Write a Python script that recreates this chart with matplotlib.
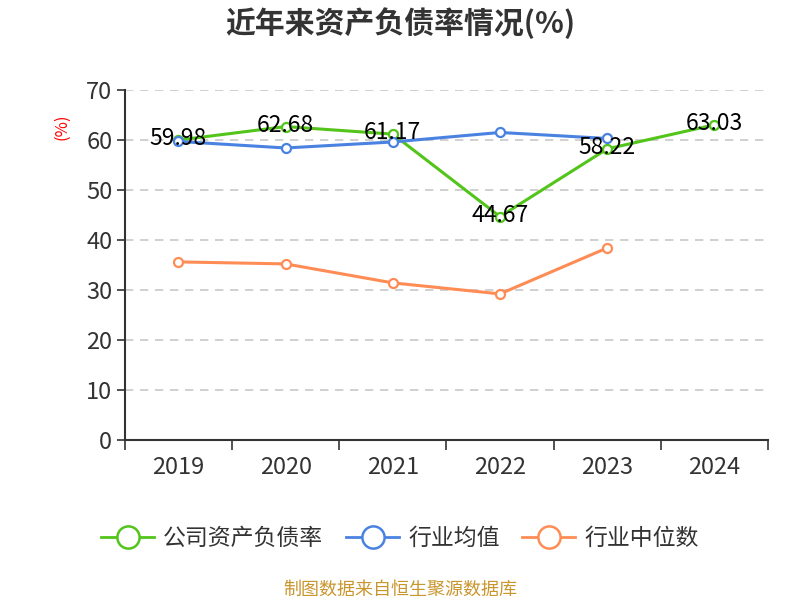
import numpy as np
import matplotlib
matplotlib.use("Agg")
import matplotlib.pyplot as plt
from matplotlib.lines import Line2D

plt.rcParams['font.family'] = ['Noto Sans CJK SC', 'DejaVu Sans']

years = ['2019', '2020', '2021', '2022', '2023', '2024']
company = [59.98, 62.68, 61.17, 44.67, 58.22, 63.03]
industry_avg = [59.7, 58.4, 59.6, 61.5, 60.3]
industry_median = [35.6, 35.2, 31.4, 29.2, 38.4]

names = ['公司资产负债率', '行业均值', '行业中位数']
colors = ['#52c41a', '#4a82e2', '#ff8c55']

fig = plt.figure(figsize=(8, 6), dpi=100)
ax = fig.add_axes([0.156, 0.267, 0.804, 0.583])

x = np.arange(len(years))
series = [company, industry_avg, industry_median]
for vals, c in zip(series, colors):
    xs = x[:len(vals)]
    ax.plot(xs, vals, color=c, lw=2.2, marker='o', ms=6.5,
            markerfacecolor='white', markeredgecolor=c, markeredgewidth=1.6, zorder=3)

for xi, v in zip(x, company):
    ax.text(xi, v + 0.3, f'{v:.2f}', ha='center', va='center', fontsize=16.5,
            color='black', zorder=4)

ax.set_xlim(-0.5, len(years) - 0.5)
ax.set_ylim(0, 70)
ax.set_yticks(range(0, 71, 10))
ax.tick_params(axis='y', labelsize=17, colors='#333333', length=6, width=1.2, pad=3)
ax.set_xticks(x)
ax.set_xticklabels(years)
ax.tick_params(axis='x', which='major', length=0, labelsize=17, colors='#333333', pad=12)
ax.set_xticks(np.arange(-0.5, len(years)), minor=True)
ax.tick_params(axis='x', which='minor', length=7, width=1.2, color='#333333')

ax.yaxis.grid(True, linestyle=(0, (5, 4)), color='#c8c8c8', lw=1.2)
ax.set_axisbelow(True)
for s in ['top', 'right']:
    ax.spines[s].set_visible(False)
for s in ['left', 'bottom']:
    ax.spines[s].set_color('#333333')
    ax.spines[s].set_linewidth(1.5)

ax.set_ylabel('(%)', color='red', fontsize=12, labelpad=2)
ax.yaxis.set_label_coords(-0.085, 0.895)

fig.text(0.5, 0.962, '近年来资产负债率情况(%)', ha='center', va='center',
         fontsize=21.5, fontweight='bold', color='#333333')

handles = [Line2D([0], [0], color=c, lw=2, marker='o', ms=16,
                  markerfacecolor='white', markeredgecolor=c, markeredgewidth=1.8)
           for c in colors]
fig.legend(handles, names, loc='center', bbox_to_anchor=(0.5, 0.103), ncol=3,
           frameon=False, fontsize=16.5, handlelength=2.3, columnspacing=1.0,
           handletextpad=0.4, labelcolor='#333333')

fig.text(0.5, 0.018, '制图数据来自恒生聚源数据库', ha='center', va='center',
         fontsize=13, color='#c9962e')

fig.savefig('out.png', dpi=100)
